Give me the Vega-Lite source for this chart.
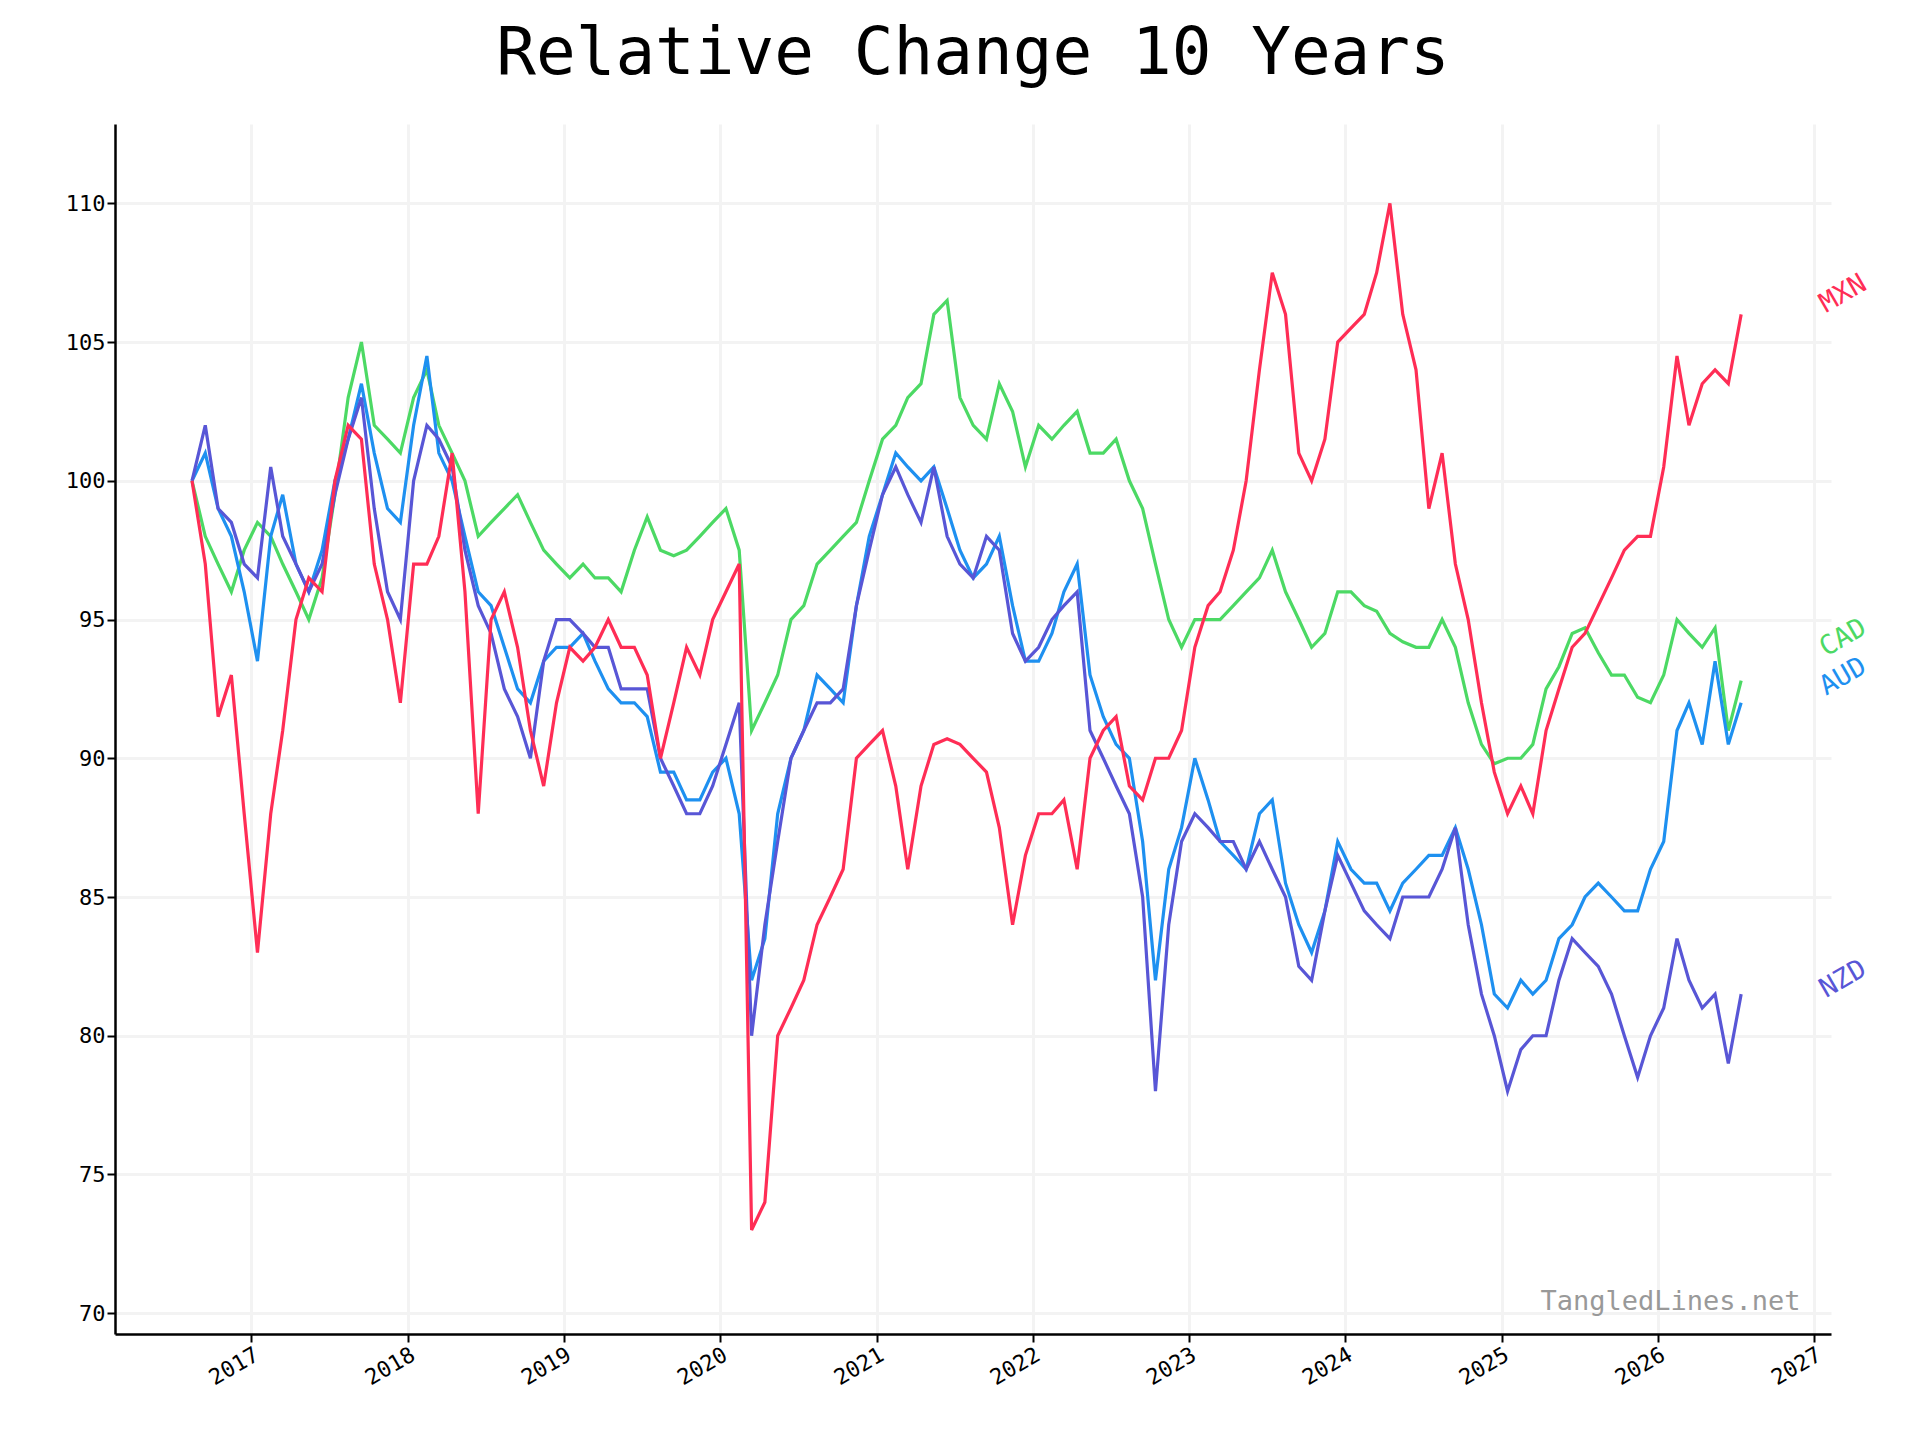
{
  "$schema": "https://vega.github.io/schema/vega-lite/v6.json",
  "width": 1716,
  "height": 1210,
  "autosize": "none",
  "padding": {"left": 115, "top": 124, "right": 89, "bottom": 106},
  "background": "white",
  "title": {"text": "Relative Change 10 Years", "font": "DejaVu Sans Mono", "fontSize": 66, "fontWeight": "normal", "color": "black", "offset": 36, "anchor": "middle"},
  "config": {
    "view": {"stroke": null},
    "axis": {"labelFont": "DejaVu Sans Mono", "labelFontSize": 22, "labelColor": "black", "domainColor": "black", "domainWidth": 2.5, "tickColor": "black", "tickWidth": 2, "tickSize": 8, "gridColor": "#f3f3f3", "gridWidth": 3, "title": null}
  },
  "data": {"values": [
    {"d":"2016-08-15","MXN":100,"CAD":100,"AUD":100,"NZD":100},
    {"d":"2016-09-15","MXN":97,"CAD":98,"AUD":101,"NZD":102},
    {"d":"2016-10-15","MXN":91.5,"CAD":97,"AUD":99,"NZD":99},
    {"d":"2016-11-15","MXN":93,"CAD":96,"AUD":98,"NZD":98.5},
    {"d":"2016-12-15","MXN":88,"CAD":97.5,"AUD":96,"NZD":97},
    {"d":"2017-01-15","MXN":83,"CAD":98.5,"AUD":93.5,"NZD":96.5},
    {"d":"2017-02-15","MXN":88,"CAD":98,"AUD":98,"NZD":100.5},
    {"d":"2017-03-15","MXN":91,"CAD":97,"AUD":99.5,"NZD":98},
    {"d":"2017-04-15","MXN":95,"CAD":96,"AUD":97,"NZD":97},
    {"d":"2017-05-15","MXN":96.5,"CAD":95,"AUD":96,"NZD":96},
    {"d":"2017-06-15","MXN":96,"CAD":96.5,"AUD":97.5,"NZD":97},
    {"d":"2017-07-15","MXN":100,"CAD":99.5,"AUD":100,"NZD":99.5},
    {"d":"2017-08-15","MXN":102,"CAD":103,"AUD":101.5,"NZD":101.5},
    {"d":"2017-09-15","MXN":101.5,"CAD":105,"AUD":103.5,"NZD":103},
    {"d":"2017-10-15","MXN":97,"CAD":102,"AUD":101,"NZD":99},
    {"d":"2017-11-15","MXN":95,"CAD":101.5,"AUD":99,"NZD":96},
    {"d":"2017-12-15","MXN":92,"CAD":101,"AUD":98.5,"NZD":95},
    {"d":"2018-01-15","MXN":97,"CAD":103,"AUD":102,"NZD":100},
    {"d":"2018-02-15","MXN":97,"CAD":104,"AUD":104.5,"NZD":102},
    {"d":"2018-03-15","MXN":98,"CAD":102,"AUD":101,"NZD":101.5},
    {"d":"2018-04-15","MXN":101,"CAD":101,"AUD":100,"NZD":100.5},
    {"d":"2018-05-15","MXN":96,"CAD":100,"AUD":98,"NZD":97.5},
    {"d":"2018-06-15","MXN":88,"CAD":98,"AUD":96,"NZD":95.5},
    {"d":"2018-07-15","MXN":95,"CAD":98.5,"AUD":95.5,"NZD":94.5},
    {"d":"2018-08-15","MXN":96,"CAD":99,"AUD":94,"NZD":92.5},
    {"d":"2018-09-15","MXN":94,"CAD":99.5,"AUD":92.5,"NZD":91.5},
    {"d":"2018-10-15","MXN":91,"CAD":98.5,"AUD":92,"NZD":90},
    {"d":"2018-11-15","MXN":89,"CAD":97.5,"AUD":93.5,"NZD":93.5},
    {"d":"2018-12-15","MXN":92,"CAD":97,"AUD":94,"NZD":95},
    {"d":"2019-01-15","MXN":94,"CAD":96.5,"AUD":94,"NZD":95},
    {"d":"2019-02-15","MXN":93.5,"CAD":97,"AUD":94.5,"NZD":94.5},
    {"d":"2019-03-15","MXN":94,"CAD":96.5,"AUD":93.5,"NZD":94},
    {"d":"2019-04-15","MXN":95,"CAD":96.5,"AUD":92.5,"NZD":94},
    {"d":"2019-05-15","MXN":94,"CAD":96,"AUD":92,"NZD":92.5},
    {"d":"2019-06-15","MXN":94,"CAD":97.5,"AUD":92,"NZD":92.5},
    {"d":"2019-07-15","MXN":93,"CAD":98.7,"AUD":91.5,"NZD":92.5},
    {"d":"2019-08-15","MXN":90,"CAD":97.5,"AUD":89.5,"NZD":90},
    {"d":"2019-09-15","MXN":92,"CAD":97.3,"AUD":89.5,"NZD":89},
    {"d":"2019-10-15","MXN":94,"CAD":97.5,"AUD":88.5,"NZD":88},
    {"d":"2019-11-15","MXN":93,"CAD":98,"AUD":88.5,"NZD":88},
    {"d":"2019-12-15","MXN":95,"CAD":98.5,"AUD":89.5,"NZD":89},
    {"d":"2020-01-15","MXN":96,"CAD":99,"AUD":90,"NZD":90.5},
    {"d":"2020-02-15","MXN":97,"CAD":97.5,"AUD":88,"NZD":92},
    {"d":"2020-03-15","MXN":73,"CAD":91,"AUD":82,"NZD":80},
    {"d":"2020-04-15","MXN":74,"CAD":92,"AUD":83.5,"NZD":84},
    {"d":"2020-05-15","MXN":80,"CAD":93,"AUD":88,"NZD":87},
    {"d":"2020-06-15","MXN":81,"CAD":95,"AUD":90,"NZD":90},
    {"d":"2020-07-15","MXN":82,"CAD":95.5,"AUD":91,"NZD":91},
    {"d":"2020-08-15","MXN":84,"CAD":97,"AUD":93,"NZD":92},
    {"d":"2020-09-15","MXN":85,"CAD":97.5,"AUD":92.5,"NZD":92},
    {"d":"2020-10-15","MXN":86,"CAD":98,"AUD":92,"NZD":92.5},
    {"d":"2020-11-15","MXN":90,"CAD":98.5,"AUD":95.5,"NZD":95.5},
    {"d":"2020-12-15","MXN":90.5,"CAD":100,"AUD":98,"NZD":97.5},
    {"d":"2021-01-15","MXN":91,"CAD":101.5,"AUD":99.5,"NZD":99.5},
    {"d":"2021-02-15","MXN":89,"CAD":102,"AUD":101,"NZD":100.5},
    {"d":"2021-03-15","MXN":86,"CAD":103,"AUD":100.5,"NZD":99.5},
    {"d":"2021-04-15","MXN":89,"CAD":103.5,"AUD":100,"NZD":98.5},
    {"d":"2021-05-15","MXN":90.5,"CAD":106,"AUD":100.5,"NZD":100.5},
    {"d":"2021-06-15","MXN":90.7,"CAD":106.5,"AUD":99,"NZD":98},
    {"d":"2021-07-15","MXN":90.5,"CAD":103,"AUD":97.5,"NZD":97},
    {"d":"2021-08-15","MXN":90,"CAD":102,"AUD":96.5,"NZD":96.5},
    {"d":"2021-09-15","MXN":89.5,"CAD":101.5,"AUD":97,"NZD":98},
    {"d":"2021-10-15","MXN":87.5,"CAD":103.5,"AUD":98,"NZD":97.5},
    {"d":"2021-11-15","MXN":84,"CAD":102.5,"AUD":95.5,"NZD":94.5},
    {"d":"2021-12-15","MXN":86.5,"CAD":100.5,"AUD":93.5,"NZD":93.5},
    {"d":"2022-01-15","MXN":88,"CAD":102,"AUD":93.5,"NZD":94},
    {"d":"2022-02-15","MXN":88,"CAD":101.5,"AUD":94.5,"NZD":95},
    {"d":"2022-03-15","MXN":88.5,"CAD":102,"AUD":96,"NZD":95.5},
    {"d":"2022-04-15","MXN":86,"CAD":102.5,"AUD":97,"NZD":96},
    {"d":"2022-05-15","MXN":90,"CAD":101,"AUD":93,"NZD":91},
    {"d":"2022-06-15","MXN":91,"CAD":101,"AUD":91.5,"NZD":90},
    {"d":"2022-07-15","MXN":91.5,"CAD":101.5,"AUD":90.5,"NZD":89},
    {"d":"2022-08-15","MXN":89,"CAD":100,"AUD":90,"NZD":88},
    {"d":"2022-09-15","MXN":88.5,"CAD":99,"AUD":87,"NZD":85},
    {"d":"2022-10-15","MXN":90,"CAD":97,"AUD":82,"NZD":78},
    {"d":"2022-11-15","MXN":90,"CAD":95,"AUD":86,"NZD":84},
    {"d":"2022-12-15","MXN":91,"CAD":94,"AUD":87.5,"NZD":87},
    {"d":"2023-01-15","MXN":94,"CAD":95,"AUD":90,"NZD":88},
    {"d":"2023-02-15","MXN":95.5,"CAD":95,"AUD":88.5,"NZD":87.5},
    {"d":"2023-03-15","MXN":96,"CAD":95,"AUD":87,"NZD":87},
    {"d":"2023-04-15","MXN":97.5,"CAD":95.5,"AUD":86.5,"NZD":87},
    {"d":"2023-05-15","MXN":100,"CAD":96,"AUD":86,"NZD":86},
    {"d":"2023-06-15","MXN":104,"CAD":96.5,"AUD":88,"NZD":87},
    {"d":"2023-07-15","MXN":107.5,"CAD":97.5,"AUD":88.5,"NZD":86},
    {"d":"2023-08-15","MXN":106,"CAD":96,"AUD":85.5,"NZD":85},
    {"d":"2023-09-15","MXN":101,"CAD":95,"AUD":84,"NZD":82.5},
    {"d":"2023-10-15","MXN":100,"CAD":94,"AUD":83,"NZD":82},
    {"d":"2023-11-15","MXN":101.5,"CAD":94.5,"AUD":84.5,"NZD":84.5},
    {"d":"2023-12-15","MXN":105,"CAD":96,"AUD":87,"NZD":86.5},
    {"d":"2024-01-15","MXN":105.5,"CAD":96,"AUD":86,"NZD":85.5},
    {"d":"2024-02-15","MXN":106,"CAD":95.5,"AUD":85.5,"NZD":84.5},
    {"d":"2024-03-15","MXN":107.5,"CAD":95.3,"AUD":85.5,"NZD":84},
    {"d":"2024-04-15","MXN":110,"CAD":94.5,"AUD":84.5,"NZD":83.5},
    {"d":"2024-05-15","MXN":106,"CAD":94.2,"AUD":85.5,"NZD":85},
    {"d":"2024-06-15","MXN":104,"CAD":94,"AUD":86,"NZD":85},
    {"d":"2024-07-15","MXN":99,"CAD":94,"AUD":86.5,"NZD":85},
    {"d":"2024-08-15","MXN":101,"CAD":95,"AUD":86.5,"NZD":86},
    {"d":"2024-09-15","MXN":97,"CAD":94,"AUD":87.5,"NZD":87.5},
    {"d":"2024-10-15","MXN":95,"CAD":92,"AUD":86,"NZD":84},
    {"d":"2024-11-15","MXN":92,"CAD":90.5,"AUD":84,"NZD":81.5},
    {"d":"2024-12-15","MXN":89.5,"CAD":89.8,"AUD":81.5,"NZD":80},
    {"d":"2025-01-15","MXN":88,"CAD":90,"AUD":81,"NZD":78},
    {"d":"2025-02-15","MXN":89,"CAD":90,"AUD":82,"NZD":79.5},
    {"d":"2025-03-15","MXN":88,"CAD":90.5,"AUD":81.5,"NZD":80},
    {"d":"2025-04-15","MXN":91,"CAD":92.5,"AUD":82,"NZD":80},
    {"d":"2025-05-15","MXN":92.5,"CAD":93.3,"AUD":83.5,"NZD":82},
    {"d":"2025-06-15","MXN":94,"CAD":94.5,"AUD":84,"NZD":83.5},
    {"d":"2025-07-15","MXN":94.5,"CAD":94.7,"AUD":85,"NZD":83},
    {"d":"2025-08-15","MXN":95.5,"CAD":93.8,"AUD":85.5,"NZD":82.5},
    {"d":"2025-09-15","MXN":96.5,"CAD":93,"AUD":85,"NZD":81.5},
    {"d":"2025-10-15","MXN":97.5,"CAD":93,"AUD":84.5,"NZD":80},
    {"d":"2025-11-15","MXN":98,"CAD":92.2,"AUD":84.5,"NZD":78.5},
    {"d":"2025-12-15","MXN":98,"CAD":92,"AUD":86,"NZD":80},
    {"d":"2026-01-15","MXN":100.5,"CAD":93,"AUD":87,"NZD":81},
    {"d":"2026-02-15","MXN":104.5,"CAD":95,"AUD":91,"NZD":83.5},
    {"d":"2026-03-15","MXN":102,"CAD":94.5,"AUD":92,"NZD":82},
    {"d":"2026-04-15","MXN":103.5,"CAD":94,"AUD":90.5,"NZD":81},
    {"d":"2026-05-15","MXN":104,"CAD":94.7,"AUD":93.5,"NZD":81.5},
    {"d":"2026-06-15","MXN":103.5,"CAD":91,"AUD":90.5,"NZD":79},
    {"d":"2026-07-15","MXN":106,"CAD":92.8,"AUD":92,"NZD":81.5}
  ]},
  "layer": [
    {
      "transform": [{"fold": ["CAD", "AUD", "NZD", "MXN"], "as": ["cur", "v"]}],
      "mark": {"type": "line", "strokeWidth": 3.2},
      "encoding": {
        "x": {"field": "d", "type": "temporal", "scale": {"domain": ["2016-02-17", "2027-02-10"]},
              "axis": {"tickCount": {"interval": "year"}, "format": "%Y", "labelAngle": -30, "labelAlign": "right", "labelBaseline": "top", "grid": true}},
        "y": {"field": "v", "type": "quantitative", "scale": {"domain": [69.25, 112.86], "nice": false, "zero": false},
              "axis": {"values": [70, 75, 80, 85, 90, 95, 100, 105, 110], "grid": true}},
        "color": {"field": "cur", "type": "nominal", "legend": null,
                  "scale": {"domain": ["MXN", "CAD", "AUD", "NZD"], "range": ["#ff2d55", "#4cd964", "#1e90f0", "#5856d6"]}},
        "detail": {"field": "cur"}
      }
    },
    {
      "data": {"values": [
        {"cur": "MXN", "d": "2027-01-20", "v": 106.3},
        {"cur": "CAD", "d": "2027-01-20", "v": 93.9},
        {"cur": "AUD", "d": "2027-01-20", "v": 92.5},
        {"cur": "NZD", "d": "2027-01-20", "v": 81.6}
      ]},
      "mark": {"type": "text", "font": "DejaVu Sans Mono", "fontSize": 27, "angle": -30, "align": "left", "baseline": "middle", "clip": false},
      "encoding": {
        "x": {"field": "d", "type": "temporal"},
        "y": {"field": "v", "type": "quantitative"},
        "text": {"field": "cur"},
        "color": {"field": "cur", "type": "nominal", "legend": null}
      }
    },
    {
      "data": {"values": [{"label": "TangledLines.net", "d": "2026-12-01", "v": 70.4}]},
      "mark": {"type": "text", "font": "DejaVu Sans Mono", "fontSize": 27, "align": "right", "baseline": "middle", "color": "#999999"},
      "encoding": {
        "x": {"field": "d", "type": "temporal"},
        "y": {"field": "v", "type": "quantitative"},
        "text": {"field": "label"}
      }
    }
  ]
}
